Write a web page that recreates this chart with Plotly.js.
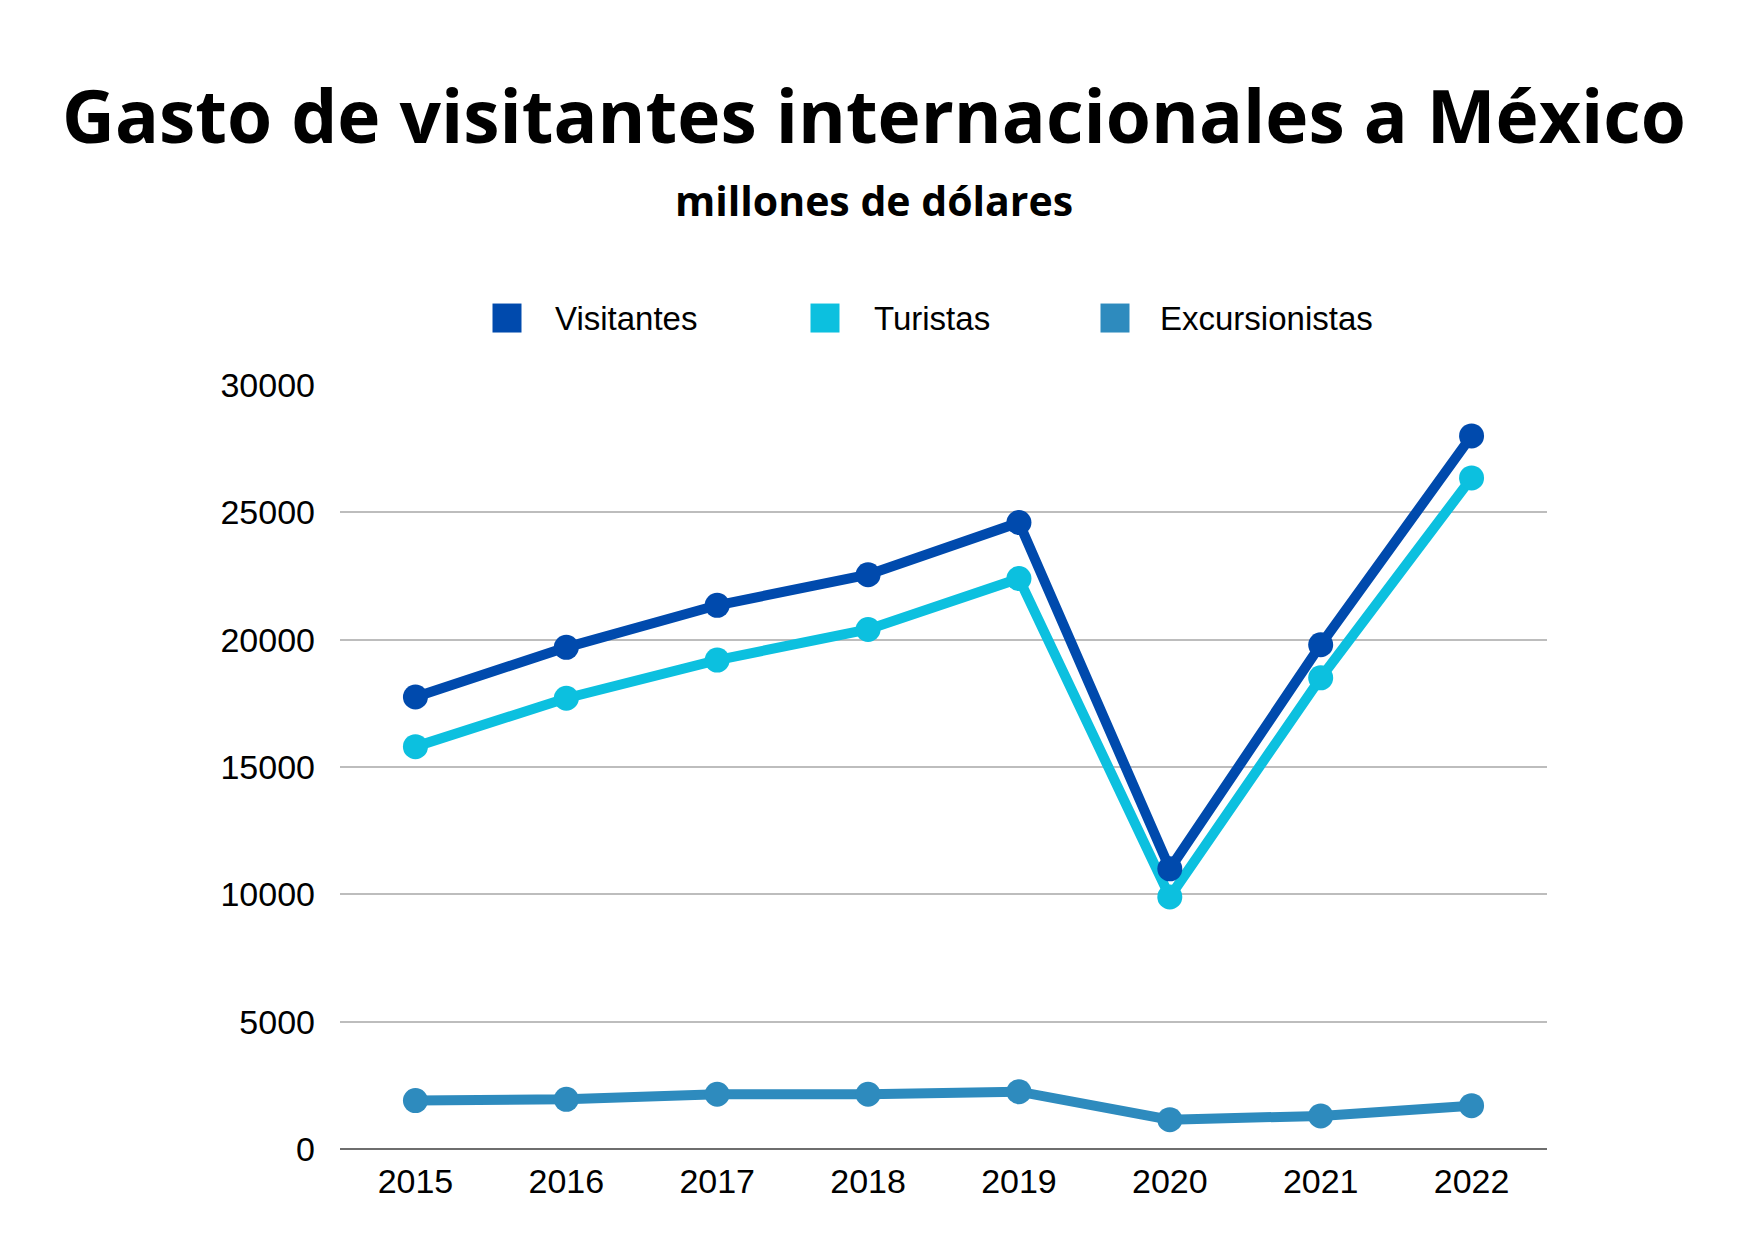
<!DOCTYPE html>
<html>
<head>
<meta charset="utf-8">
<script src="https://cdn.plot.ly/plotly-3.0.1.min.js"></script>
<style>html,body{margin:0;padding:0;background:#fff;}#chart{width:1748px;height:1240px;}</style>
</head>
<body>
<div id="chart"></div>
<script>
const years = ["2015","2016","2017","2018","2019","2020","2021","2022"];
const visitantes = [17750, 19700, 21350, 22550, 24600, 11000, 19800, 28000];
const turistas = [15800, 17700, 19200, 20400, 22400, 9900, 18500, 26350];
const excursionistas = [1900, 1950, 2150, 2150, 2250, 1150, 1300, 1700];
const seriesNames = ["Visitantes", "Turistas", "Excursionistas"];
const colors = ["#004AAD", "#0CC0DF", "#2E8BBE"];
const yTicks = [0, 5000, 10000, 15000, 20000, 25000, 30000];

const W = 1748, H = 1240;
const L = 340, R = 1547, T = 385, B = 1149.3;
const px2x = p => (p - L) / (R - L);
const px2y = p => (B - p) / (B - T);

function trace(y, i) {
  return {
    x: years, y: y, type: 'scatter', mode: 'lines+markers', name: seriesNames[i],
    line: {color: colors[i], width: 10},
    marker: {color: colors[i], size: 25},
    showlegend: false, cliponaxis: false
  };
}
const data = [trace(excursionistas, 2), trace(turistas, 1), trace(visitantes, 0)];

const legendSq = [507, 825, 1115];
const legendTx = [553, 872, 1158];
const legendY = 318;
const sq = 29;
const shapes = [];
const annotations = [];
seriesNames.forEach((n, i) => {
  shapes.push({type: 'rect', xref: 'paper', yref: 'paper',
    x0: px2x(legendSq[i] - sq/2), x1: px2x(legendSq[i] + sq/2),
    y0: px2y(legendY + sq/2), y1: px2y(legendY - sq/2),
    fillcolor: colors[i], line: {width: 0}});
  annotations.push({xref: 'paper', yref: 'paper', x: px2x(legendTx[i]), y: px2y(legendY),
    xanchor: 'left', yanchor: 'middle', showarrow: false, text: n,
    font: {family: 'Liberation Sans, Arial, sans-serif', size: 33, color: '#000'}});
});
annotations.push({xref: 'paper', yref: 'paper', x: px2x(874), y: px2y(200),
  xanchor: 'center', yanchor: 'middle', showarrow: false, text: '<b>millones de dólares</b>',
  font: {family: 'Open Sans, sans-serif', size: 41, color: '#000'}});

const layout = {
  width: W, height: H,
  paper_bgcolor: '#fff', plot_bgcolor: '#fff',
  margin: {l: L, r: W - R, t: T, b: H - B, pad: 0},
  title: {text: '<b>Gasto de visitantes internacionales a México</b>',
    x: 0.5, xref: 'container', xanchor: 'center',
    y: 1 - 117/H, yref: 'container', yanchor: 'middle',
    font: {family: 'Open Sans, sans-serif', size: 73, color: '#000'}},
  showlegend: false,
  xaxis: {type: 'category', range: [-0.5, 7.5], showgrid: false, zeroline: false,
    showline: false, ticks: '', ticklabelstandoff: 9,
    tickfont: {family: 'Liberation Sans, Arial, sans-serif', size: 34, color: '#000'}},
  yaxis: {range: [0, 30000], tickvals: yTicks, tickformat: 'd', showgrid: true,
    gridcolor: '#bdbdbd', gridwidth: 2, zeroline: true, zerolinecolor: '#6e6e6e',
    zerolinewidth: 2, showline: false, ticks: '', ticklabelstandoff: 24,
    tickfont: {family: 'Liberation Sans, Arial, sans-serif', size: 34, color: '#000'}},
  shapes: shapes,
  annotations: annotations,
  font: {family: 'Liberation Sans, Arial, sans-serif'}
};
Plotly.newPlot('chart', data, layout, {displayModeBar: false, staticPlot: true});
</script>
</body>
</html>
